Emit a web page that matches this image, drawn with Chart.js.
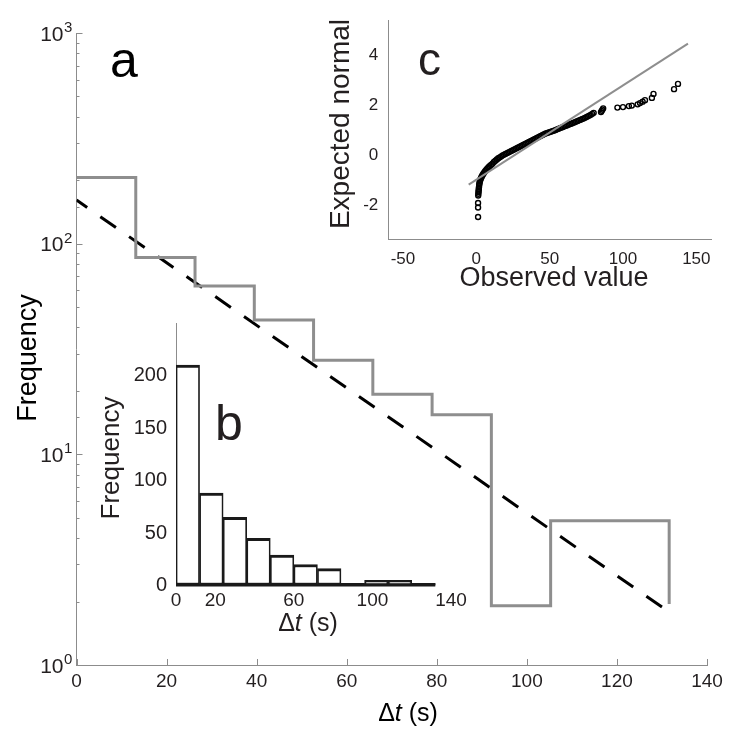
<!DOCTYPE html>
<html>
<head>
<meta charset="utf-8">
<script src="https://cdn.jsdelivr.net/npm/chart.js@4.4.1/dist/chart.umd.min.js"></script>
<style>
  html, body { margin: 0; padding: 0; background: #fff; }
  #wrap { position: relative; width: 729px; height: 732px; }
  #wrap canvas { position: absolute; left: 0; top: 0; }
</style>
</head>
<body>
<div id="wrap">
  <canvas id="panelA" width="729" height="732"></canvas>
  <canvas id="panelB" width="729" height="732"></canvas>
  <canvas id="panelC" width="729" height="732"></canvas>
</div>
<script>
// painel a: escada (log) + ajuste exponencial
const stairEdges = [0, 13.16, 26.32, 39.48, 52.64, 65.8, 78.96, 92.12, 105.28, 118.44, 131.6];
const stairFreq = [206, 86, 63, 43.4, 28, 19.3, 15.4, 1.91, 4.84, 4.84, 1.95];
const fitX = [0, 131.5];
const fitFreq = [161, 1.79];
const xTicksA = [0, 20, 40, 60, 80, 100, 120, 140];

// painel b: histograma
const binCenters = [6, 18, 30, 42, 54, 66, 78, 90, 102, 114, 126];
const binCounts = [210, 88, 65, 45, 29, 20, 16, 2, 5, 5, 2];
const xTicksB = [0, 20, 60, 100, 140];
const yTicksB = [0, 50, 100, 150, 200];

// painel c: QQ plot
const qqObserved = [
  1.2, 1.2, 1.2, 1.3, 1.4, 1.5, 1.6, 1.7, 1.8, 1.9,
  2.0, 2.2, 2.4, 2.7, 3.0, 3.4, 3.8, 4.3, 4.8, 5.4,
  6.0, 6.7, 7.4, 8.2, 9.0,
  10, 11, 12, 13, 14, 15, 16, 17, 18, 19,
  20, 21, 22, 23, 24, 25, 26, 27, 28, 29,
  30, 31, 32, 33, 34, 35, 36, 37, 38, 39,
  40, 41, 42, 43, 44, 45, 46, 47, 48, 49,
  50, 51, 52, 53, 54, 55, 56, 57, 58, 59,
  60, 61, 62, 63, 64, 65, 66, 67, 68, 69,
  70, 71, 72, 73, 74, 75, 76, 77, 78, 79,
  80,
  85, 85.5, 86, 86.5,
  96.2, 100, 104, 106, 110, 111.6, 113.4, 115, 119.7, 120.8, 134.8, 137.5
];
const qqExpected = [
  -2.48, -2.10, -1.92, -1.62, -1.55, -1.48, -1.42, -1.36, -1.30, -1.24,
  -1.18, -1.12, -1.06, -1.00, -0.95, -0.90, -0.85, -0.80, -0.75, -0.70,
  -0.65, -0.60, -0.55, -0.50, -0.45,
  -0.40, -0.35, -0.28, -0.23, -0.18, -0.13, -0.09, -0.05, -0.01, 0.02,
  0.05, 0.08, 0.11, 0.14, 0.17, 0.20, 0.23, 0.26, 0.29, 0.32,
  0.35, 0.38, 0.41, 0.44, 0.47, 0.50, 0.53, 0.56, 0.59, 0.62,
  0.65, 0.68, 0.71, 0.74, 0.77, 0.80, 0.83, 0.86, 0.88, 0.90,
  0.92, 0.94, 0.96, 0.98, 1.00, 1.03, 1.05, 1.08, 1.10, 1.12,
  1.15, 1.17, 1.19, 1.22, 1.24, 1.26, 1.29, 1.31, 1.34, 1.36,
  1.39, 1.41, 1.44, 1.46, 1.49, 1.52, 1.55, 1.58, 1.61, 1.65,
  1.69,
  1.72, 1.77, 1.82, 1.87,
  1.90, 1.92, 1.96, 1.98, 2.03, 2.08, 2.14, 2.20, 2.29, 2.45, 2.64, 2.85
];
const qqLineX = [-5.2, 144.3];
const qqLineY = [-1.18, 4.46];
const xTicksC = [-50, 0, 50, 100, 150];
const yTicksC = [-2, 0, 2, 4];

const FONTE = "'Liberation Sans', Arial, Helvetica, sans-serif";
const corTexto = '#231f20';
const cinzaEixo = '#8c8c8c';
const cinzaLinha = '#8e8e8e';

Chart.defaults.font.family = FONTE;
Chart.defaults.color = corTexto;
Chart.defaults.animation = false;
Chart.defaults.plugins.legend.display = false;
Chart.defaults.plugins.tooltip.enabled = false;

const fonte = (px, estilo) => (estilo ? estilo + ' ' : '') + px + 'px ' + FONTE;
const ticksDe = lista => s => { s.ticks = lista.map(v => ({ value: v })); };
const pares = (xs, ys) => xs.map((x, i) => ({ x: x, y: ys[i] }));

function textoVertical(ctx, txt, xBase, yCentro, px) {
  ctx.save();
  ctx.translate(xBase, yCentro);
  ctx.rotate(-Math.PI / 2);
  ctx.font = fonte(px);
  ctx.textAlign = 'center';
  ctx.textBaseline = 'alphabetic';
  ctx.fillText(txt, 0, 0);
  ctx.restore();
}

// "Δt (s)" com t em itálico
function tituloDeltaT(ctx, cx, base, px) {
  ctx.save();
  ctx.textBaseline = 'alphabetic';
  ctx.textAlign = 'left';
  ctx.font = fonte(px); const w1 = ctx.measureText('\u0394').width; const w3 = ctx.measureText(' (s)').width;
  ctx.font = fonte(px, 'italic'); const w2 = ctx.measureText('t').width;
  let x = cx - (w1 + w2 + w3) / 2;
  ctx.font = fonte(px); ctx.fillText('\u0394', x, base); x += w1;
  ctx.font = fonte(px, 'italic'); ctx.fillText('t', x, base); x += w2;
  ctx.font = fonte(px); ctx.fillText(' (s)', x, base);
  ctx.restore();
}

function letra(ctx, txt, x, base, px) {
  ctx.save();
  ctx.font = fonte(px);
  ctx.textAlign = 'left';
  ctx.textBaseline = 'alphabetic';
  ctx.fillText(txt, x, base);
  ctx.restore();
}

// ---------- painel a ----------
const extrasA = {
  id: 'extrasA',
  afterDraw(chart) {
    const ctx = chart.ctx, sx = chart.scales.x, sy = chart.scales.y;
    const area = chart.chartArea;
    ctx.save();
    ctx.strokeStyle = cinzaEixo;
    ctx.lineWidth = 1;
    ctx.beginPath();
    sx.ticks.forEach(t => {
      const px = Math.round(sx.getPixelForValue(t.value)) + 0.5;
      ctx.moveTo(px, area.bottom); ctx.lineTo(px, area.bottom - 6);
    });
    sy.ticks.forEach(t => {
      const lg = Math.log10(t.value);
      const maior = Math.abs(lg - Math.round(lg)) < 1e-6;
      const py = Math.round(sy.getPixelForValue(t.value)) + 0.5;
      ctx.moveTo(area.left, py); ctx.lineTo(area.left + (maior ? 6 : 3), py);
    });
    ctx.stroke();
    ctx.fillStyle = corTexto;
    sy.ticks.forEach(t => {
      const lg = Math.log10(t.value);
      if (Math.abs(lg - Math.round(lg)) > 1e-6) return;
      const py = sy.getPixelForValue(t.value);
      ctx.font = fonte(21); ctx.textAlign = 'right'; ctx.textBaseline = 'alphabetic';
      ctx.fillText('10', area.left - 13, py + 7.5);
      ctx.font = fonte(15); ctx.textAlign = 'left';
      ctx.fillText(String(Math.round(lg)), area.left - 12.5, py - 1);
    });
    ctx.restore();
    textoVertical(ctx, 'Frequency', 36, 358, 27);
    tituloDeltaT(ctx, 408, 721, 25);
    letra(ctx, 'a', 110, 77, 50);
  }
};

new Chart(document.getElementById('panelA'), {
  type: 'line',
  data: {
    datasets: [
      {
        data: pares(stairEdges, stairFreq),
        stepped: 'before',
        borderColor: cinzaLinha,
        borderWidth: 3,
        borderJoinStyle: 'miter',
        pointRadius: 0,
        fill: false
      },
      {
        data: pares(fitX, fitFreq),
        borderColor: '#000',
        borderWidth: 3,
        borderDash: [19, 16],
        borderDashOffset: 6,
        pointRadius: 0,
        fill: false
      }
    ]
  },
  options: {
    responsive: false,
    layout: { padding: { left: 0, top: 33, right: 22, bottom: 0 } },
    scales: {
      x: {
        type: 'linear', min: 0, max: 140,
        afterBuildTicks: ticksDe(xTicksA),
        afterFit: s => { s.height = 67; },
        grid: { display: false, drawTicks: false },
        border: { color: cinzaEixo, width: 1 },
        ticks: { font: { size: 19 }, padding: 5, maxRotation: 0, autoSkip: false }
      },
      y: {
        type: 'logarithmic', min: 1, max: 1000,
        afterFit: s => { s.width = 76.5; },
        grid: { display: false, drawTicks: false },
        border: { color: cinzaEixo, width: 1 },
        ticks: { display: false }
      }
    }
  },
  plugins: [extrasA]
});

// ---------- painel b ----------
const extrasB = {
  id: 'extrasB',
  afterDatasetsDraw(chart) {
    // linha de base grossa sob as barras (bordas inferiores do histograma)
    const barras = chart.getDatasetMeta(0).data;
    const ctx = chart.ctx;
    const ini = barras[0], fim = barras[barras.length - 1];
    const yb = chart.scales.y.getPixelForValue(0);
    ctx.save();
    ctx.strokeStyle = '#1a1a1a';
    ctx.lineWidth = 3;
    ctx.beginPath();
    ctx.moveTo(ini.x - ini.width / 2, yb - 0.5);
    ctx.lineTo(fim.x + fim.width / 2, yb - 0.5);
    ctx.stroke();
    ctx.restore();
  },
  afterDraw(chart) {
    const ctx = chart.ctx;
    ctx.fillStyle = corTexto;
    textoVertical(ctx, 'Frequency', 119, 458, 26);
    tituloDeltaT(ctx, 308, 631, 25);
    letra(ctx, 'b', 215, 440, 50);
  }
};

new Chart(document.getElementById('panelB'), {
  type: 'bar',
  data: {
    datasets: [{
      data: pares(binCenters, binCounts),
      backgroundColor: '#fff',
      borderColor: '#1a1a1a',
      borderWidth: { top: 3, bottom: 3, left: 1.7, right: 1.7 },
      borderSkipped: false,
      barPercentage: 1,
      categoryPercentage: 1
    }]
  },
  options: {
    responsive: false,
    layout: { padding: { left: 0, top: 323, right: 278, bottom: 0 } },
    scales: {
      x: {
        type: 'linear', min: 0, max: 140, offset: false,
        afterBuildTicks: ticksDe(xTicksB),
        afterFit: s => { s.height = 146.5; },
        grid: { display: false, drawTicks: false },
        border: { display: false },
        ticks: { font: { size: 19 }, padding: 4, maxRotation: 0, autoSkip: false }
      },
      y: {
        min: 0, max: 250,
        afterBuildTicks: ticksDe(yTicksB),
        afterFit: s => { s.width = 176; },
        grid: { display: false, drawTicks: false },
        border: { color: cinzaEixo, width: 1 },
        ticks: { font: { size: 20 }, padding: 9 }
      }
    }
  },
  plugins: [extrasB]
});

// ---------- painel c ----------
const extrasC = {
  id: 'extrasC',
  afterDraw(chart) {
    const ctx = chart.ctx;
    ctx.fillStyle = corTexto;
    textoVertical(ctx, 'Expected normal', 349, 124, 28);
    ctx.save();
    ctx.font = fonte(27); ctx.textAlign = 'center'; ctx.textBaseline = 'alphabetic';
    ctx.fillText('Observed value', 554, 286);
    ctx.restore();
    letra(ctx, 'c', 418, 75, 46);
  }
};

new Chart(document.getElementById('panelC'), {
  type: 'scatter',
  data: {
    datasets: [
      {
        data: pares(qqLineX, qqLineY),
        showLine: true,
        borderColor: cinzaLinha,
        borderWidth: 2,
        pointRadius: 0
      },
      {
        data: pares(qqObserved, qqExpected),
        pointRadius: 2.5,
        pointBorderWidth: 1.4,
        pointBorderColor: '#000',
        pointBackgroundColor: 'rgba(0,0,0,0)'
      }
    ]
  },
  options: {
    responsive: false,
    layout: { padding: { left: 0, top: 8, right: 18, bottom: 0 } },
    scales: {
      x: {
        type: 'linear', min: -60, max: 160,
        afterBuildTicks: ticksDe(xTicksC),
        afterFit: s => { s.height = 492; },
        grid: { display: false, drawTicks: false },
        border: { color: cinzaEixo, width: 1 },
        ticks: { font: { size: 17 }, padding: 9, maxRotation: 0, autoSkip: false }
      },
      y: {
        type: 'linear', min: -3.4, max: 5.4,
        afterBuildTicks: ticksDe(yTicksC),
        afterFit: s => { s.width = 388.3; },
        grid: { display: false, drawTicks: false },
        border: { color: cinzaEixo, width: 1 },
        ticks: { font: { size: 17 }, padding: 10 }
      }
    }
  },
  plugins: [extrasC]
});
</script>
</body>
</html>
